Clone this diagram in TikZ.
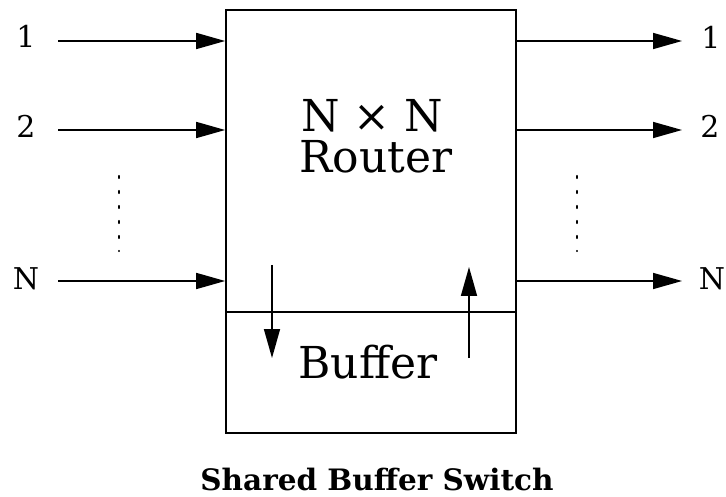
\documentclass[tikz,border=0pt]{standalone}
\usepackage{fontspec}
\setmainfont{DejaVu Serif}
\usetikzlibrary{arrows.meta}
\begin{document}
\begin{tikzpicture}[x=1pt,y=-1pt,
  line width=1.7pt,
  arr/.style={-{Triangle[length=29pt,width=16pt]}},
  lbl/.style={font=\fontsize{30}{34}\selectfont, inner sep=0pt, anchor=base},
  big/.style={font=\fontsize{44}{50}\selectfont, inner sep=0pt, anchor=base},
  dots/.style={line width=2.2pt, dash pattern=on 2pt off 13pt, line cap=round}]
\useasboundingbox (0,0) rectangle (726,497);
% main box
\node[draw, minimum width=290pt, minimum height=423pt, inner sep=0pt] (box) at (371,221.5) {};
\coordinate (divl) at (226,312);
\coordinate (divr) at (516,312);
\draw (divl) -- (divr);
% texts
\node[big] (nn) at (372,132) {N × N};
\node[big] (router) at (376,173) {Router};
\node[big] (buffer) at (368,378) {Buffer};
\node[font=\fontsize{29.5}{34}\selectfont\bfseries, inner sep=0pt, anchor=base] (title) at (377,490) {Shared Buffer Switch};
% inputs
\node[lbl] (i1) at (26,48) {1};
\node[lbl] (i2) at (26,138) {2};
\node[lbl] (iN) at (26,290) {N};
\coordinate (s1) at (58,41);
\coordinate (s2) at (58,130);
\coordinate (sN) at (58,281);
\draw[arr] (s1) -- (box.west |- s1);
\draw[arr] (s2) -- (box.west |- s2);
\draw[arr] (sN) -- (box.west |- sN);
% outputs
\node[lbl] (o1) at (711,49) {1};
\node[lbl] (o2) at (710,138) {2};
\node[lbl] (oN) at (712,290) {N};
\coordinate (e1) at (682,41);
\coordinate (e2) at (682,130);
\coordinate (eN) at (682,281);
\draw[arr] (box.east |- e1) -- (e1);
\draw[arr] (box.east |- e2) -- (e2);
\draw[arr] (box.east |- eN) -- (eN);
% dots
\coordinate (dl1) at (119,176);
\coordinate (dl2) at (119,251);
\coordinate (dr1) at (577,176);
\coordinate (dr2) at (577,251);
\draw[dots] (dl1) -- (dl2);
\draw[dots] (dr1) -- (dr2);
% buffer arrows
\coordinate (da) at (272,265);
\coordinate (db) at (272,358);
\coordinate (ua) at (469,358);
\coordinate (ub) at (469,267);
\draw[arr] (da) -- (db);
\draw[arr] (ua) -- (ub);
\end{tikzpicture}
\end{document}
